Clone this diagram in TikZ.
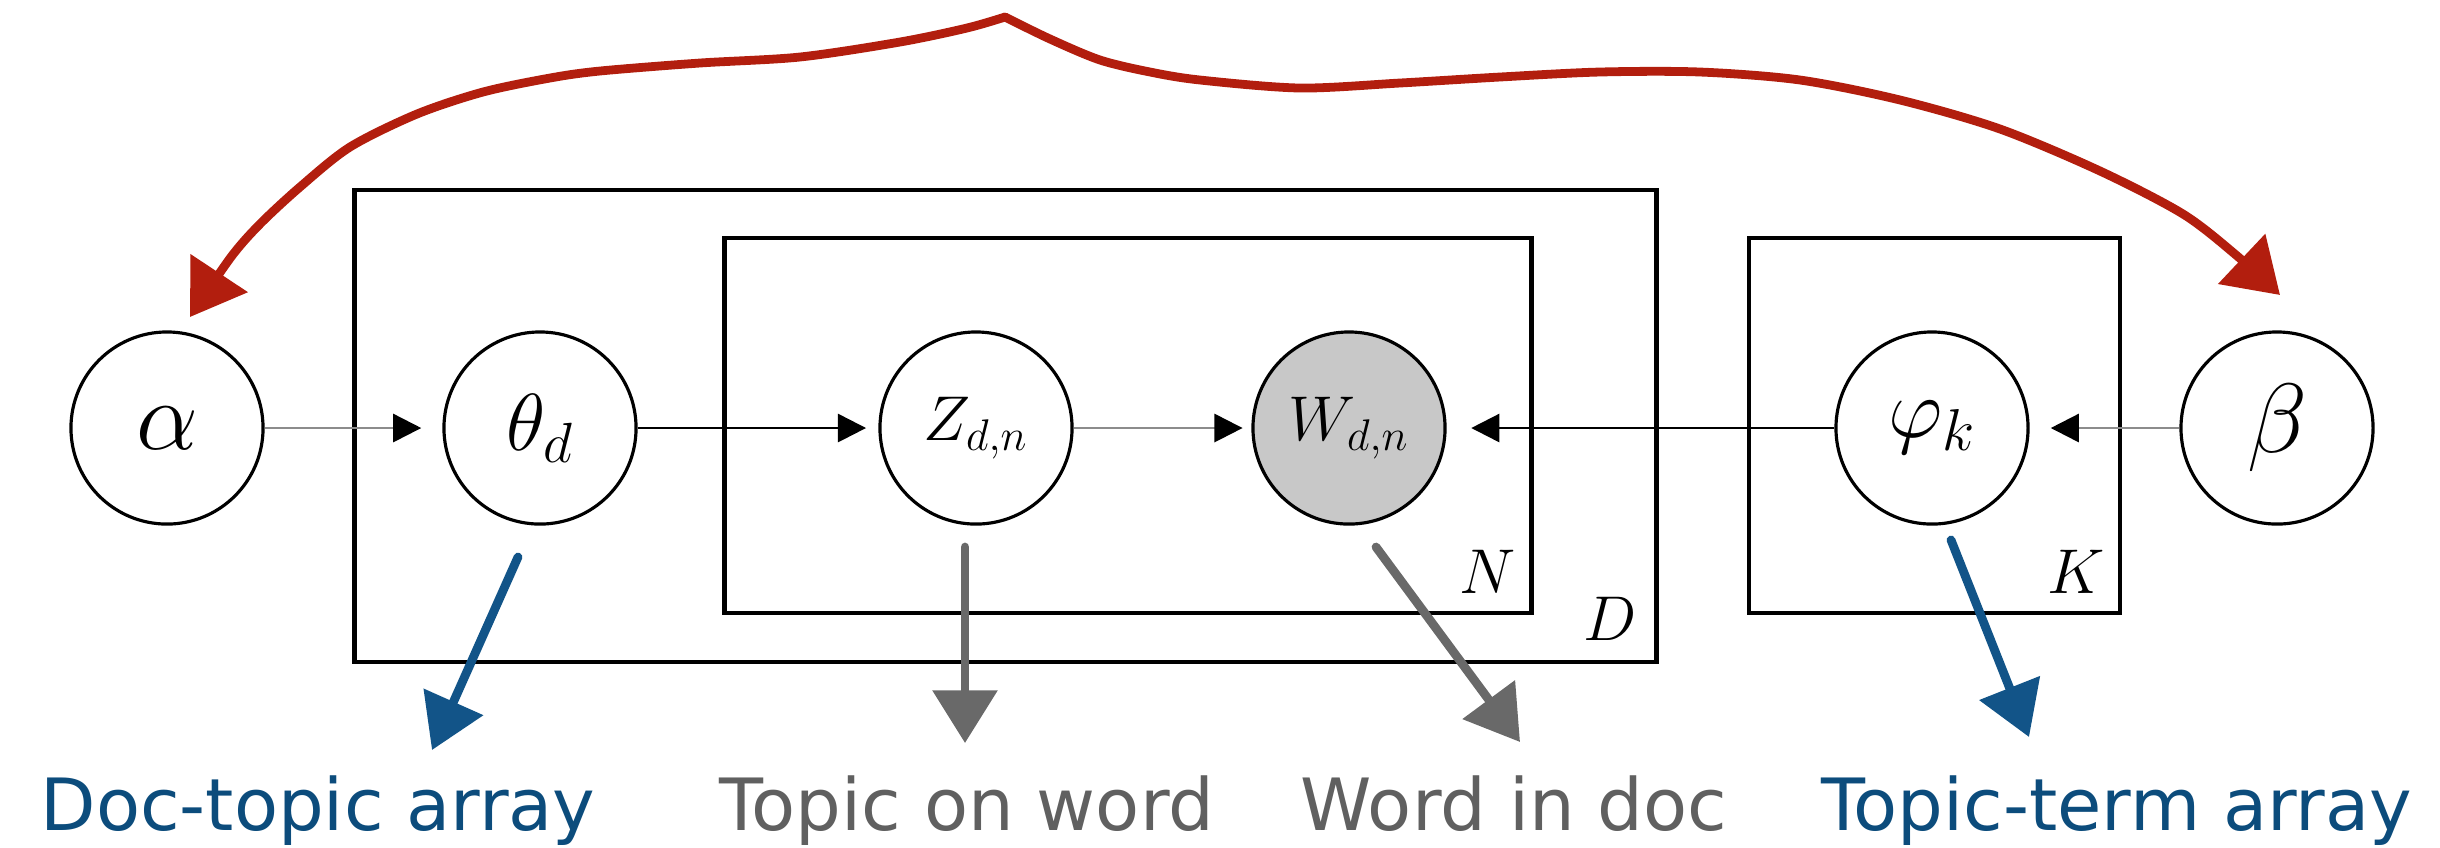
\RequirePackage{fix-cm}
\documentclass[tikz,border=0pt]{standalone}
\usepackage{fontspec}
\newfontfamily\labfont{DejaVu Sans}
\usetikzlibrary{arrows.meta}
\definecolor{redarr}{RGB}{178,30,14}
\definecolor{bluearr}{RGB}{18,84,136}
\definecolor{bluetxt}{RGB}{12,76,124}
\definecolor{graytxt}{RGB}{96,96,96}
\definecolor{grayarr}{RGB}{105,105,105}
\definecolor{obsfill}{RGB}{200,200,200}
\begin{document}
\begin{tikzpicture}[x=0.01cm,y=-0.01cm,
  var/.style={circle, draw, line width=0.9pt, minimum size=1.92cm, inner sep=0pt},
  plate/.style={draw, line width=1.3pt, inner sep=0pt},
  edge/.style={line width=0.7pt, -{Triangle[length=8pt,width=8pt,color=black]}},
  hand/.style={line width=2.5pt, line cap=round, line join=round, -{Triangle[length=15pt,width=18pt]}},
  lab/.style={anchor=base, font=\labfont\fontsize{20.5}{24}\selectfont},
  platelab/.style={anchor=base east, inner sep=0pt, font=\fontsize{18}{22}\selectfont}]
\useasboundingbox (0,0) rectangle (2440,847);

% plates
\node[plate, minimum width=13.01cm, minimum height=4.72cm] (Dplate) at (1005.5,426) {};
\node[plate, minimum width=8.06cm, minimum height=3.75cm] (Nplate) at (1128,425.5) {};
\node[plate, minimum width=3.71cm, minimum height=3.75cm] (Kplate) at (1934.5,425.5) {};
\node[platelab] (Nlab) at (1516,593) {$N$};
\node[platelab] (Klab) at (2105,593) {$K$};
\node[platelab] (Dlab) at (1637,640) {$D$};

% variables
\node[var] (alpha) at (167,428) {\fontsize{28}{30}\selectfont$\alpha$};
\node[var] (theta) at (540,428) {\fontsize{23}{26}\selectfont$\theta_d$};
\node[var] (z) at (976,428) {\fontsize{18}{20}\selectfont$Z_{d,n}$};
\node[var, fill=obsfill] (w) at (1349,428) {\fontsize{18}{20}\selectfont$W_{d,n}$};
\node[var] (phi) at (1932,428) {\fontsize{24}{26}\selectfont$\varphi_k$};
\node[var] (beta) at (2277,428) {\fontsize{28}{30}\selectfont$\beta$};

% edges
\draw[edge, draw=black!45, shorten >=6pt] (alpha) -- (theta);
\draw[edge, draw=black, shorten >=3.5pt] (theta) -- (z);
\draw[edge, draw=black!45, shorten >=2.5pt] (z) -- (w);
\draw[edge, draw=black, shorten >=7pt] (phi) -- (w);
\draw[edge, draw=black!45, shorten >=6pt] (beta) -- (phi);

% red brace arrows
\coordinate (peak) at (1005,17);
\coordinate (redL) at (190,317);
\coordinate (redR) at (2280,295);
\draw[hand, draw=redarr, -{Triangle[length=15pt,width=19pt]}] plot[smooth, tension=0.5] coordinates
  {(peak) (967,28) (900,42) (800,57) (700,63) (600,71) (550,78) (483,92) (417,114) (350,147) (300,187) (260,224) (231,257) (redL)};
\draw[hand, draw=redarr, -{Triangle[length=15pt,width=19pt]}] plot[smooth, tension=0.5] coordinates
  {(peak) (1050,39) (1100,60) (1150,72) (1200,80) (1300,88) (1400,83) (1500,77) (1600,72) (1700,72) (1800,80) (1900,100) (2000,129) (2100,171) (2183,214) (2236,255) (redR)};

% bottom arrows
\coordinate (a1s) at (518,557); \coordinate (a1e) at (432,750);
\coordinate (a2s) at (965,547); \coordinate (a2e) at (965,743);
\coordinate (a3s) at (1376,547); \coordinate (a3e) at (1520,742);
\coordinate (a4s) at (1951,540); \coordinate (a4e) at (2029,737);
\draw[hand, draw=bluearr] (a1s) -- (a1e);
\draw[hand, draw=grayarr] (a2s) -- (a2e);
\draw[hand, draw=grayarr] (a3s) -- (a3e);
\draw[hand, draw=bluearr] (a4s) -- (a4e);

% labels
\node[lab, text=bluetxt] (doc) at (318,830) {Doc-topic array};
\node[lab, text=graytxt] (tow) at (967,830) {Topic on word};
\node[lab, text=graytxt] (wid) at (1514,830) {Word in doc};
\node[lab, text=bluetxt] (tta) at (2117,830) {Topic-term array};
\end{tikzpicture}
\end{document}
